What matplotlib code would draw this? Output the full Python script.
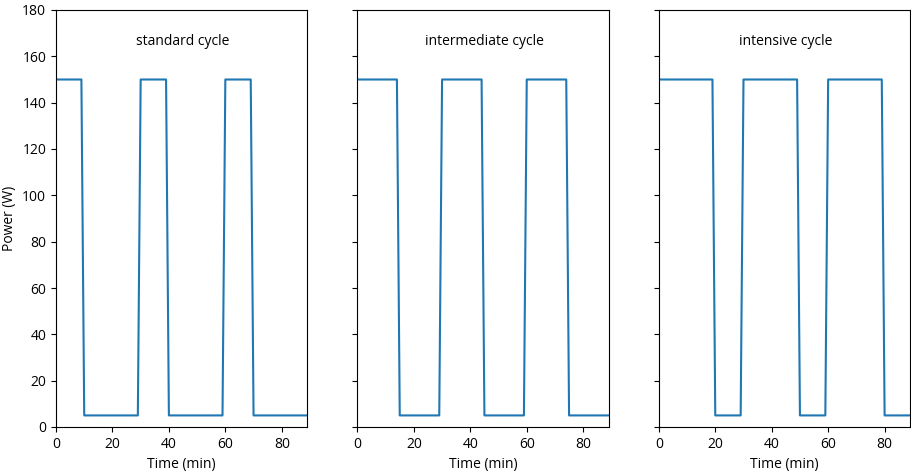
import numpy as np
import matplotlib
matplotlib.use("Agg")
import matplotlib.pyplot as plt

plt.rcParams["font.family"] = ["Open Sans", "DejaVu Sans"]
plt.rcParams["font.size"] = 10

# === Data: power per minute, 0..89 ===
t = np.arange(0, 90)
hi, lo = 150, 5

# (start, end) minutes where heater is on (end exclusive)
on_standard = [(0, 10), (30, 40), (60, 70)]
on_intermediate = [(0, 15), (30, 45), (60, 75)]
on_intensive = [(0, 20), (30, 50), (60, 80)]

titles = ["standard cycle", "intermediate cycle", "intensive cycle"]
cycles = [on_standard, on_intermediate, on_intensive]


def power_profile(on_periods):
    p = np.full(len(t), lo, dtype=float)
    for a, b in on_periods:
        p[(t >= a) & (t < b)] = hi
    return p


fig, axes = plt.subplots(1, 3, sharey=True, figsize=(9.11, 4.72), dpi=100)
fig.subplots_adjust(left=56 / 911, right=910 / 911, top=1 - 10 / 472,
                    bottom=1 - 427 / 472, wspace=0.2)

for ax, title, periods in zip(axes, titles, cycles):
    ax.plot(t, power_profile(periods), color="#1f77b4")
    ax.text(45, 165, title, ha="center")
    ax.set_xlim(0, 89)
    ax.set_ylim(0, 180)
    ax.set_xlabel("Time (min)")
    ax.set_xticks([0, 20, 40, 60, 80])

axes[0].set_yticks(range(0, 181, 20))
axes[0].set_ylabel("Power (W)")

plt.savefig("out.png", dpi=100)
